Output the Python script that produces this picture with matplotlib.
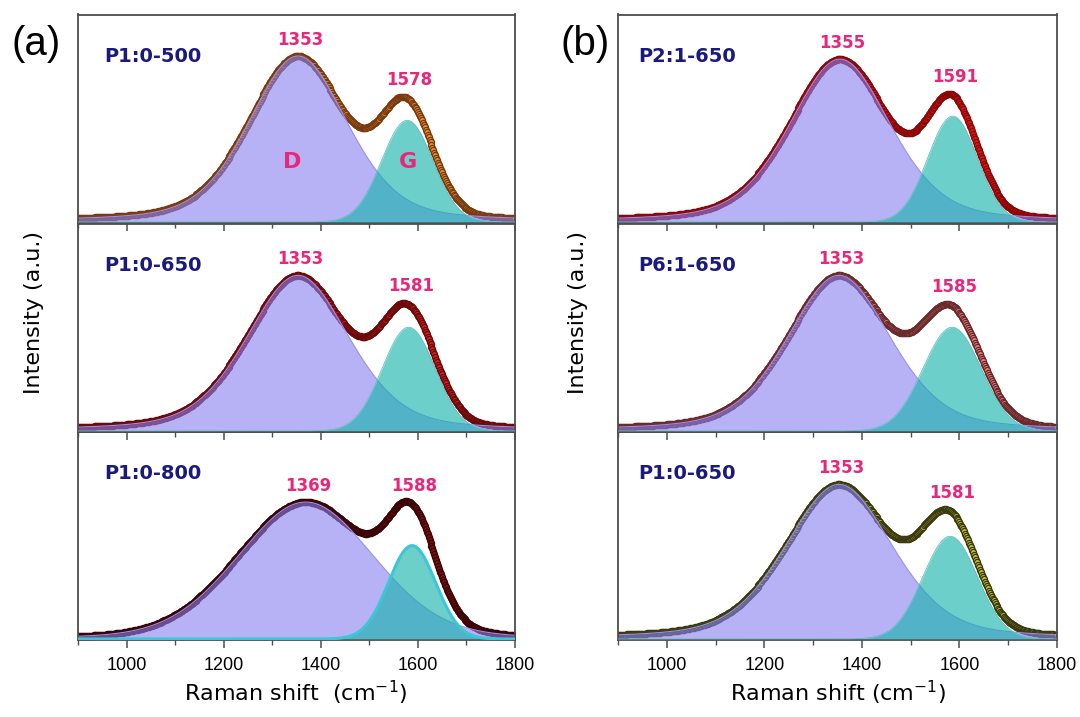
import numpy as np
import matplotlib
matplotlib.use("Agg")
import matplotlib.pyplot as plt

plt.rcParams['font.family'] = ['Liberation Sans', 'DejaVu Sans']

# ___ PANEL DATA (heights as fraction of panel height) ___ #
panel_names = ['P1:0-500', 'P1:0-650', 'P1:0-800', 'P2:1-650', 'P6:1-650', 'P1:0-650']
d_center = [1353, 1353, 1369, 1355, 1353, 1353]
d_height = [0.80, 0.75, 0.66, 0.785, 0.75, 0.745]
d_hwhm = [120, 125, 165, 122, 125, 130]
d_eta = [0.35, 0.35, 0.15, 0.35, 0.35, 0.35]
g_center = [1578, 1581, 1588, 1586, 1585, 1581]
g_height = [0.49, 0.50, 0.45, 0.51, 0.50, 0.495]
g_hwhm = [62, 64, 57, 60, 70, 66]
d_labels = ['1353', '1353', '1369', '1355', '1353', '1353']
g_labels = ['1578', '1581', '1588', '1591', '1585', '1581']

# marker colours (face, edge) per panel
face_cols = ['#e8902a', '#d42020', '#7a1010', '#d81818', '#e88080', '#c8c030']
edge_cols = ['#7a3a10', '#6a0a0a', '#3a0505', '#8a0808', '#6a2a2a', '#3a3a10']

shift = np.arange(900, 1801, 2.0)  # spectrometer grid


def pvoigt(x, c, h, w, eta):
    lor = 1.0 / (1.0 + ((x - c) / w) ** 2)
    gau = np.exp(-np.log(2) * ((x - c) / w) ** 2)
    return h * (eta * lor + (1 - eta) * gau)


fig = plt.figure(figsize=(10.8, 7.17), dpi=100)
lefts = [78 / 1080, 618 / 1080]
widths = [437 / 1080, 439 / 1080]
bottoms = [1 - 223 / 717, 1 - 432 / 717, 1 - 640 / 717]
height = 208.5 / 717

pink = '#e8267a'
navy = '#1a1a7e'
wide = ['DejaVu Sans']

for i in range(6):
    col, row = i // 3, i % 3
    ax = fig.add_axes([lefts[col], bottoms[row], widths[col], height])
    d = pvoigt(shift, d_center[i], d_height[i], d_hwhm[i], d_eta[i])
    g = pvoigt(shift, g_center[i], g_height[i], g_hwhm[i], 0.0)
    total = d + g

    ax.plot(shift, total, 'o', ms=4.4, mfc=face_cols[i], mec=edge_cols[i], mew=0.9, zorder=1)
    ax.fill_between(shift, 0, d, color='#877ff0', alpha=0.6, lw=0, zorder=2)
    ax.plot(shift, d, color='#9a90e8', lw=0.8, zorder=2)
    ax.fill_between(shift, 0, g, color='#14b2aa', alpha=0.62, lw=0, zorder=3)
    if i == 2:
        ax.plot(shift, g, color='#3cc6d6', lw=2.2, zorder=3)
    else:
        ax.plot(shift, g, color='#5cc0c0', lw=0.6, zorder=3)

    # ___ TEXT ___ #
    ax.text(0.045 if col == 1 else 0.06, 0.80, panel_names[i], transform=ax.transAxes,
            fontsize=14, fontweight='bold', color=navy, va='center', ha='left', family=wide)
    yd = total[np.argmin(abs(shift - d_center[i]))]
    yg = total[np.argmin(abs(shift - g_center[i]))]
    ax.text(d_center[i] + 5, yd + 0.078, d_labels[i], fontsize=12, fontweight='bold',
            color=pink, ha='center', va='center', family=wide)
    ax.text(g_center[i] + 5, yg + 0.088, g_labels[i], fontsize=12, fontweight='bold',
            color=pink, ha='center', va='center', family=wide)
    if i == 0:
        ax.text(1342, 0.29, 'D', fontsize=16, fontweight='bold', color=pink, ha='center',
                va='center', zorder=5, family=wide)
        ax.text(1580, 0.29, 'G', fontsize=16, fontweight='bold', color=pink, ha='center',
                va='center', zorder=5, family=wide)

    ax.set_xlim(900, 1800)
    ax.set_ylim(-0.005, 1.0)
    ax.set_yticks([])
    ax.set_xticks([1000, 1200, 1400, 1600, 1800])
    ax.set_xticks(np.arange(900, 1801, 100), minor=True)
    ax.tick_params(axis='x', which='major', direction='out', length=6, width=1.1,
                   color='#4d4d4d', labelsize=13, pad=6)
    ax.tick_params(axis='x', which='minor', direction='out', length=3.5, width=1.0, color='#4d4d4d')
    if row != 2:
        ax.tick_params(axis='x', labelbottom=False)
    for sp in ax.spines.values():
        sp.set_color('#4d4d4d')
        sp.set_linewidth(1.3)
    ax.set_zorder(10 - row)
    ax.patch.set_alpha(0)

fig.text(34 / 1080, 1 - 312 / 717, 'Intensity (a.u.)', rotation=90, fontsize=16, ha='center',
         va='center', family=wide)
fig.text(578 / 1080, 1 - 312 / 717, 'Intensity (a.u.)', rotation=90, fontsize=16, ha='center',
         va='center', family=wide)
fig.text(296 / 1080, 1 - 693 / 717, 'Raman shift  (cm$^{-1}$)', fontsize=16, ha='center',
         va='center', family=wide)
fig.text(838 / 1080, 1 - 693 / 717, 'Raman shift (cm$^{-1}$)', fontsize=16, ha='center',
         va='center', family=wide)
fig.text(36 / 1080, 1 - 44 / 717, '(a)', fontsize=29, ha='center', va='center')
fig.text(585 / 1080, 1 - 44 / 717, '(b)', fontsize=29, ha='center', va='center')

fig.savefig('out.png', dpi=100)
